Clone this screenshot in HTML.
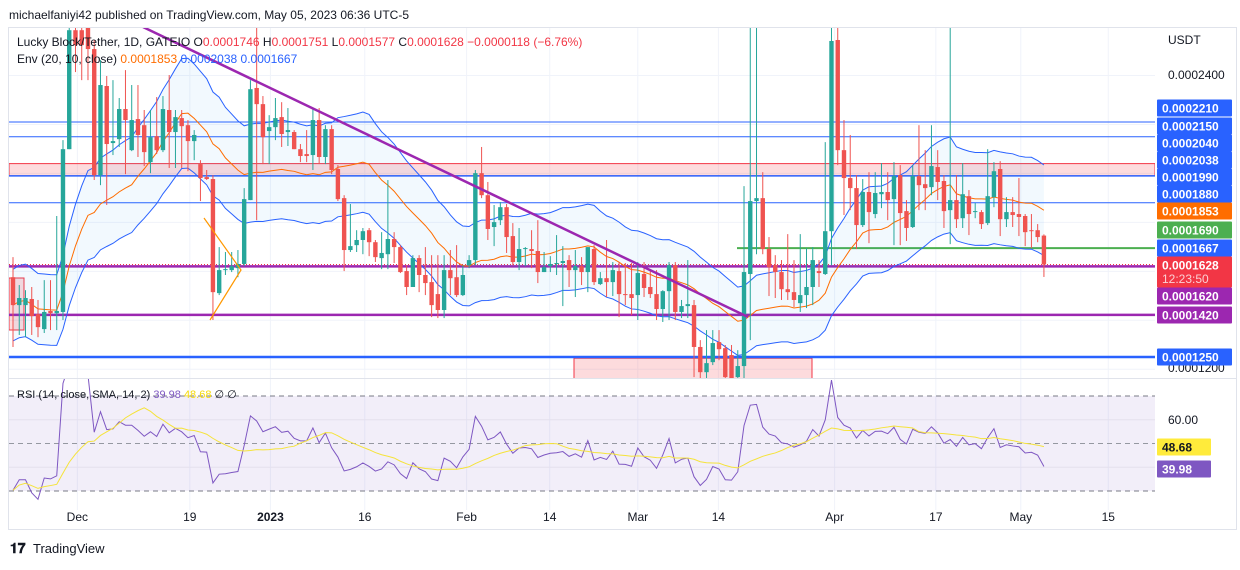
<!DOCTYPE html>
<html><head><meta charset="utf-8"><style>
body{margin:0;background:#fff;width:1240px;height:565px;overflow:hidden;font-family:"Liberation Sans",sans-serif;}
svg text{font-family:"Liberation Sans",sans-serif;}
</style></head><body>
<svg id="chart" width="1240" height="565" xmlns="http://www.w3.org/2000/svg">
<rect x="0" y="0" width="1240" height="565" fill="#fff"/>
<text x="9" y="19" font-size="12" fill="#131722">michaelfaniyi42 published on TradingView.com, May 05, 2023 06:36 UTC-5</text>
<rect x="8.5" y="27.5" width="1228" height="502" fill="none" stroke="#e0e3eb"/>
<defs>
<clipPath id="mainClip"><rect x="9" y="28" width="1146" height="350"/></clipPath>
<clipPath id="rsiClip"><rect x="9" y="379" width="1146" height="131"/></clipPath>
</defs>
<g id="grid"></g>
<g id="drawingsBack" clip-path="url(#mainClip)"></g>
<g id="envelope" clip-path="url(#mainClip)"></g>
<g id="candles" clip-path="url(#mainClip)"></g>
<g id="drawingsFront" clip-path="url(#mainClip)"></g>
<line x1="9" y1="378.5" x2="1236" y2="378.5" stroke="#e0e3eb"/>
<g id="rsi" clip-path="url(#rsiClip)"></g>
<g id="axis"></g>
<text x="17" y="46" font-size="12" fill="#131722">Lucky Block/Tether, 1D, GATEIO  O<tspan fill="#f23645">0.0001746</tspan>  H<tspan fill="#f23645">0.0001751</tspan>  L<tspan fill="#f23645">0.0001577</tspan>  C<tspan fill="#f23645">0.0001628</tspan>  <tspan fill="#f23645">−0.0000118 (−6.76%)</tspan></text>
<text x="17" y="63" font-size="12" fill="#131722">Env (20, 10, close)  <tspan fill="#ff6d00">0.0001853</tspan>  <tspan fill="#2962ff">0.0002038</tspan>  <tspan fill="#2962ff">0.0001667</tspan></text>
<text x="17" y="398" font-size="11" fill="#131722">RSI (14, close, SMA, 14, 2)  <tspan fill="#7e57c2">39.98</tspan>  <tspan fill="#f5d90a">48.68</tspan>  ∅  ∅</text>
<g>
<text x="10" y="553" font-size="14" font-weight="bold" fill="#131722">𝟏𝟕</text>
<text x="33" y="553" font-size="13" fill="#131722">TradingView</text>
</g>
</svg>
<script>
// prices in units of 1e-7 USDT
const opens=[1576,1462,1462,1487,1425,1364,1438,1429,1434,2099,2585,2585,2598,2508,1993,2357,2124,2140,2263,2095,2222,2197,2046,2152,2095,2259,2169,2226,2197,2132,2038,1985,1977,1511,1605,1605,1613,1630,1891,2349,2283,2173,2189,2230,2169,2169,2099,2079,2075,2218,2067,2181,2018,1899,1687,1707,1728,1768,1719,1654,1670,1732,1699,1601,1536,1654,1585,1556,1507,1442,1605,1576,1503,1625,1646,2001,1911,1781,1809,1862,1744,1638,1691,1691,1683,1597,1621,1630,1634,1646,1605,1621,1597,1691,1548,1572,1556,1601,1507,1507,1503,1589,1536,1507,1446,1519,1625,1434,1458,1462,1291,1188,1229,1311,1286,1258,1168,1213,1589,1887,1899,1691,1625,1597,1527,1515,1470,1503,1536,1601,1589,1764,2545,2095,1981,1940,1789,1924,1834,1915,1924,1895,1993,1846,1781,1989,1956,1944,2026,1969,1850,1891,1817,1907,1842,1842,1797,1903,2018,1813,1842,1834,1826,1768,1768,1746];
const highs=[1658,1544,1523,1536,1483,1564,1564,1826,2136,2708,2667,2626,2626,2545,2463,2398,2381,2308,2422,2361,2361,2259,2259,2312,2316,2402,2259,2259,2218,2177,2054,2014,1993,1699,1679,1679,1687,1940,2381,2598,2316,2238,2308,2291,2267,2177,2120,2177,2267,2267,2197,2197,2034,1911,1875,1768,1777,1777,1728,1760,1973,1760,1707,1625,1666,1666,1699,1666,1666,1666,1687,1707,1625,1666,2014,2108,1965,1871,1883,1875,1797,1777,1699,1768,1809,1679,1662,1748,1703,1666,1687,1658,1699,1707,1597,1728,1638,1638,1634,1634,1638,1638,1605,1605,1523,1638,1638,1483,1646,1483,1319,1360,1360,1360,1299,1299,1278,1948,2700,2700,2005,1740,1666,1646,1752,1646,1752,1695,1699,1646,2128,2700,2700,2218,2157,1993,1977,2005,2005,2042,2005,2046,2034,1891,2034,2197,2095,2197,2095,1993,2700,1993,2042,1932,1879,1850,2099,2046,2050,1903,1903,1981,1834,1834,1793,1751];
const lows=[1291,1340,1331,1340,1331,1348,1360,1360,1401,2099,2414,2381,2381,1973,1952,1871,2075,2108,1997,2091,2067,2030,2001,2079,2087,2022,2022,2022,2009,2054,1887,1973,1401,1503,1585,1597,1576,1621,1891,1809,2038,2038,2136,2108,2112,2099,2046,2046,2014,2038,2038,1997,1887,1601,1679,1679,1670,1662,1638,1609,1609,1634,1593,1503,1536,1515,1503,1413,1409,1409,1503,1495,1499,1613,1625,1899,1728,1703,1789,1675,1625,1605,1621,1613,1552,1597,1597,1585,1458,1536,1495,1544,1515,1544,1544,1495,1499,1413,1462,1421,1401,1495,1491,1401,1393,1401,1401,1409,1409,1168,1155,1155,1217,1237,1155,1155,1155,1155,1319,1670,1670,1499,1491,1483,1483,1454,1434,1450,1462,1536,1585,1625,2034,1830,1850,1691,1781,1715,1817,1858,1809,1707,1707,1724,1777,1850,1850,1911,1891,1777,1711,1777,1777,1748,1817,1773,1789,1862,1744,1781,1781,1744,1703,1695,1719,1577];
const closes=[1462,1491,1491,1417,1372,1434,1429,1438,2099,2585,2524,2524,2508,1993,2361,2120,2132,2263,2218,2218,2157,2087,2148,2095,2263,2169,2230,2193,2132,2157,1981,1977,1515,1605,1609,1621,1630,1895,2344,2283,2148,2189,2226,2161,2177,2099,2071,2071,2218,2067,2181,2014,1895,1687,1703,1728,1764,1719,1658,1675,1732,1699,1597,1536,1654,1585,1552,1462,1442,1605,1572,1503,1585,1646,2001,1911,1773,1801,1862,1740,1638,1691,1695,1683,1597,1617,1630,1634,1642,1605,1621,1597,1699,1556,1572,1556,1605,1507,1505,1491,1593,1532,1507,1446,1519,1625,1434,1458,1466,1291,1188,1225,1307,1282,1168,1164,1213,1597,1887,1899,1691,1617,1597,1527,1515,1483,1503,1536,1646,1593,1764,2541,2095,1981,1940,1789,1924,1842,1920,1924,1891,1989,1838,1777,1989,1952,1940,2030,1965,1846,1891,1813,1915,1834,1846,1793,1907,2009,1813,1842,1830,1822,1760,1766,1740,1628];
const timeLabels=["Dec","19","2023","16","Feb","14","Mar","14","Apr","17","May","15"];
const timeLabelIdx=[10.3,28.3,41.2,56.3,72.6,85.9,100,112.9,131.5,147.7,161.3,175.3];
const priceTicks=[2400,2200,2000,1800,1600,1400,1200];
const rsiLevels=[70,50,30];
const rsiSeedGain=10, rsiSeedLoss=23;

const NS="http://www.w3.org/2000/svg";
function el(tag,attrs,parent){const e=document.createElementNS(NS,tag);for(const k in attrs)e.setAttribute(k,attrs[k]);parent.appendChild(e);return e;}
const xOf=i=>13+i*6.248;
const yOf=p=>122+(2210-p)/4.085;
const yRsi=v=>396+(70-v)*2.375;

const grid=document.getElementById('grid');
priceTicks.forEach(p=>{const l=el('line',{x1:9,x2:1155,y1:yOf(p),y2:yOf(p),stroke:'#f0f3fa'},grid);

});
timeLabelIdx.forEach(i=>{const l=el('line',{x1:xOf(i),x2:xOf(i),y1:28,y2:510,stroke:'#f0f3fa'},grid);

});

const db=document.getElementById('drawingsBack');
function hline(p,color,w,x1,name){const l=el('line',{x1:x1||9,x2:1155,y1:yOf(p),y2:yOf(p),stroke:color,'stroke-width':w},db);

return l;}
let r=el('rect',{x:9,y:yOf(2040),width:1146,height:yOf(1990)-yOf(2040),fill:'rgba(242,54,69,0.18)',stroke:'#f23645','stroke-width':1},db);


r=el('rect',{x:9,y:278,width:15,height:52,fill:'rgba(242,54,69,0.18)',stroke:'#f23645','stroke-width':1},db);


r=el('rect',{x:574,y:yOf(1245),width:238,height:30,fill:'rgba(242,54,69,0.18)',stroke:'#f23645','stroke-width':1},db);


hline(2210,'#2962ff',1,null,'level-line-2210');
hline(2150,'#2962ff',1,null,'level-line-2150');
hline(1990,'#2962ff',1.5,null,'level-line-1990');
hline(1880,'#2962ff',1,null,'level-line-1880');
hline(1620,'#9c27b0',2.5,null,'support-line-1620');
hline(1422,'#9c27b0',2.5,null,'support-line-1420');
hline(1250,'#2962ff',2.5,null,'support-line-1250');
hline(1695,'#4caf50',2,737,'level-line-green');
let cl=hline(1628,'#f23645',1,null,'last-price-line');cl.setAttribute('stroke-dasharray','1 2');

const env=document.getElementById('envelope');
const mid=[],up=[],lo=[];
closes.forEach((c,i)=>{const s=closes.slice(Math.max(0,i-19),i+1);const m=s.reduce((a,b)=>a+b,0)/s.length;mid.push(m);up.push(m*1.1);lo.push(m*0.9);});
let fillPts=up.map((v,i)=>xOf(i)+','+yOf(v)).join(' ')+' '+lo.map((v,i)=>xOf(i)+','+yOf(v)).reverse().join(' ');
let pg=el('polygon',{points:fillPts,fill:'rgba(33,150,243,0.06)'},env);


[[up,'#2962ff','envelope-upper'],[lo,'#2962ff','envelope-lower'],[mid,'#ff6d00','envelope-basis']].forEach(([arr,c,n])=>{
const pl=el('polyline',{points:arr.map((v,i)=>xOf(i)+','+yOf(v)).join(' '),fill:'none',stroke:c,'stroke-width':1},env);

});

const cg=document.getElementById('candles');
opens.forEach((o,i)=>{const c=closes[i];const col=c>=o?'#26a69a':'#ef5350';const x=xOf(i);
const g=el('g',{},cg);


el('line',{x1:x,x2:x,y1:yOf(highs[i]),y2:yOf(lows[i]),stroke:col,'stroke-width':1},g);
const yt=yOf(Math.max(o,c)),yb=yOf(Math.min(o,c));
el('rect',{x:x-2.2,y:yt,width:4.4,height:Math.max(1,yb-yt),fill:col},g);});

const df=document.getElementById('drawingsFront');
let tl=el('line',{x1:143,y1:27,x2:748,y2:317,stroke:'#9c27b0','stroke-width':2.5},df);


let tri=el('polyline',{points:'204,218 241,270 210,320',fill:'none',stroke:'#ff9800','stroke-width':1.2},df);



const rg=document.getElementById('rsi');
let band=el('rect',{x:9,y:yRsi(70),width:1146,height:yRsi(30)-yRsi(70),fill:'rgba(126,87,194,0.1)'},rg);


[60,40].forEach(v=>{const l=el('line',{x1:9,x2:1155,y1:yRsi(v),y2:yRsi(v),stroke:'#e4e0ee'},rg);

});
rsiLevels.forEach(v=>{const l=el('line',{x1:9,x2:1155,y1:yRsi(v),y2:yRsi(v),stroke:v===50?'#9598a1':'#787b86','stroke-dasharray':'5 4'},rg);

});
const rsi=[];let ag=rsiSeedGain,al=rsiSeedLoss;
closes.forEach((c,i)=>{if(i>0){const d=c-closes[i-1];ag=(ag*13+Math.max(d,0))/14;al=(al*13+Math.max(-d,0))/14;}rsi.push(al===0?100:100-100/(1+ag/al));});
const rsiMa=rsi.map((v,i)=>{const s=rsi.slice(Math.max(0,i-13),i+1);return s.reduce((a,b)=>a+b,0)/s.length;});
let rl=el('polyline',{points:rsi.map((v,i)=>xOf(i)+','+yRsi(v)).join(' '),fill:'none',stroke:'#7e57c2','stroke-width':1},rg);


let rm=el('polyline',{points:rsiMa.map((v,i)=>xOf(i)+','+yRsi(v)).join(' '),fill:'none',stroke:'#f5e33a','stroke-width':1},rg);



const ax=document.getElementById('axis');
timeLabels.forEach((t,i)=>{const tx=el('text',{x:xOf(timeLabelIdx[i]),y:521,'font-size':12,'text-anchor':'middle',fill:'#131722','font-weight':t==='2023'?'bold':'normal'},ax);tx.textContent=t;

});
function ptxt(t,y,name){const tx=el('text',{x:1168,y:y+4,'font-size':12,fill:'#131722'},ax);tx.textContent=t;

}
ptxt('USDT',40,'currency-label');
ptxt('0.0002400',75,'price-tick-label');
ptxt('0.0001200',368,'price-tick-label');
ptxt('60.00',420,'rsi-tick-label');
const tags=[['0.0002210',108,'#2962ff'],['0.0002150',126,'#2962ff'],['0.0002040',143,'#2962ff'],['0.0002038',160,'#2962ff'],['0.0001990',177,'#2962ff'],['0.0001880',194,'#2962ff'],['0.0001853',211,'#ff6d00'],['0.0001690',230,'#4caf50'],['0.0001667',248,'#2962ff'],['0.0001628',265,'#f23645'],['0.0001620',296,'#9c27b0'],['0.0001420',315,'#9c27b0'],['0.0001250',357,'#2962ff'],['48.68',447,'#ffeb3b'],['39.98',469,'#7e57c2']];
tags.forEach(([t,y,c])=>{const g=el('g',{},ax);


const h=t==='0.0001628'?31:17;
el('rect',{x:1157,y:y-8.5,width:t.length<6?54:75,height:h,fill:c,rx:1},g);
const tx=el('text',{x:1162,y:y+4.5,'font-size':12,'font-weight':'bold',fill:c==='#ffeb3b'?'#131722':'#fff'},g);tx.textContent=t;
if(h>17){const t2=el('text',{x:1162,y:y+18,'font-size':12,fill:'#fbd0d3'},g);t2.textContent='12:23:50';}});
</script>
</body></html>
